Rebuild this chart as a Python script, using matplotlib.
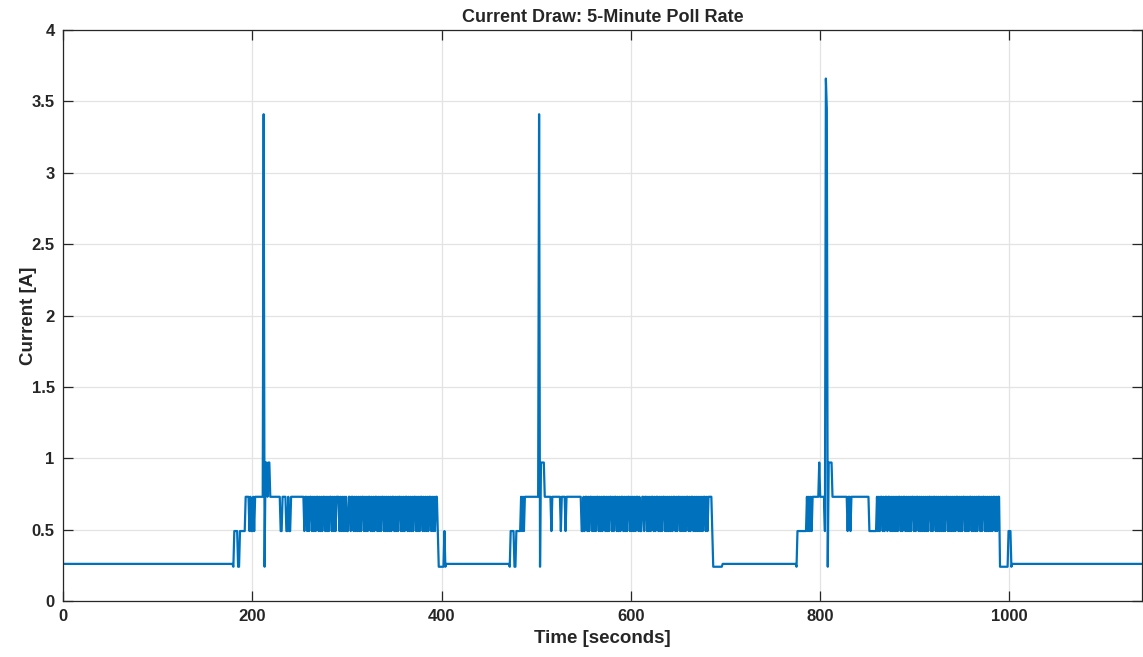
#!/usr/bin/env python3
"""Current draw trace for a 5-minute poll rate, MATLAB-style figure."""
import matplotlib
matplotlib.use("Agg")
import matplotlib.pyplot as plt
import numpy as np

# sample levels (amps)
LEVELS = {"b": 0.26, "d": 0.24, "l": 0.49, "h": 0.73, "p": 0.97}
T_END = 1140

# one character per 1-second sample, "x" marks the spike samples
BURST_STARTS = [180, 472, 775]
BURST_1 = (
    "d" "llll" "dd" "llllll" "hhhh" "lhllhlh" + "h" * 8 + "x" "d" "pphpp"
    + "h" * 11 + "ll" "hhhh" "ll" "h" "ll" + "h" * 14
    + "lhhlhlhhlh" "lhlhhlhlhl" "hhlhlhlhhl" "hlhlhhhlhl" "hlhlhllhhl"
    + "hhlhlhlhlh" "lhhlhlhlhh" "lhlhlhhlhl" "hlhhlhlhlh" "lhlhhlhlhl"
    + "hhlhlhlhhl" "hlhlhlhhlh" "lhlhhlhlhl" "hlhhlhlhlh" "h"
    + "l" "dddddd" "l" "d"
)
BURST_2 = (
    "d" "llll" "dd" "lllll" "hlhlhhh" + "h" * 12 + "x" "d" "pppp"
    + "h" * 7 + "l" + "h" * 9 + "l" "hhhh" "l" + "h" * 16 + "llhl" "h"
    + "hlhlhhlhlh" "lhhlhlhlhh" "lhlhlhhlhl" "hhlhlhlhhl" "hlhlhhlhlh"
    + "lhlhhlhllh" "hlhhlhlhlh" "hlhlhhlhlh" "lhhlhlhlhl" "hlhhlhlhhl"
    + "hlhlhlhhlh" "lhhlhlhlhl" "hlhlhhlhlh" "hhh"
    + "l" + "d" * 10
)
BURST_3 = (
    "d" + "l" * 10 + "hlhlhlh" + "h" * 6 + "p" + "h" * 5 + "l" "xx" "d" "pppp"
    + "h" * 16 + "l" "hh" "l" + "h" * 19 + "l" * 8
    + "hlhlhhlhlh" "hlhhlhlhlh" "lhlhhlhlhh" "lhlhlhlhhl" "hlhhlhlhlh"
    + "lhlhlhhlhl" "hhlhlhlhlh" "lhlhhlhlhl" "hlhlhhlhlh" "lhhlhlhlhh"
    + "lhlhlhlhhl" "hlhhlhlhlh" "lhlhhlhlhh"
    + "d" * 9 + "lll" "d"
)
BURSTS = [BURST_1, BURST_2, BURST_3]
SPIKE_VALUES = [3.41, 3.41, 3.66, 3.45]

X_TICKS = [0, 200, 400, 600, 800, 1000]
Y_TICKS = [0, 0.5, 1, 1.5, 2, 2.5, 3, 3.5, 4]
Y_TICK_LABELS = ["0", "0.5", "1", "1.5", "2", "2.5", "3", "3.5", "4"]

LINE_COLOR = "#0072BD"
TEXT_COLOR = "#262626"


def build_trace():
    t = np.arange(0, T_END + 1)
    y = np.full(t.shape, LEVELS["b"])
    spikes = iter(SPIKE_VALUES)
    for start, codes in zip(BURST_STARTS, BURSTS):
        for i, c in enumerate(codes):
            y[start + i] = next(spikes) if c == "x" else LEVELS[c]
    return t, y


def main():
    plt.rcParams["font.family"] = ["Liberation Sans", "DejaVu Sans"]
    t, y = build_trace()

    fig = plt.figure(figsize=(11.43, 6.57), dpi=100)
    fig.patch.set_facecolor("white")
    ax = fig.add_axes([63 / 1143, 56 / 657, 1079 / 1143, 571 / 657])

    ax.plot(t, y, color=LINE_COLOR, lw=1.6)

    ax.set_xlim(0, T_END)
    ax.set_ylim(0, 4)
    ax.set_xticks(X_TICKS)
    ax.set_yticks(Y_TICKS)
    ax.set_yticklabels(Y_TICK_LABELS)
    ax.grid(True, color="#e3e3e3", lw=0.9)
    ax.set_axisbelow(True)

    ax.tick_params(direction="in", length=7.5, width=0.9, colors=TEXT_COLOR,
                   top=True, right=True, labelsize=12, pad=6)
    for lab in ax.get_xticklabels() + ax.get_yticklabels():
        lab.set_fontweight("bold")
    for sp in ax.spines.values():
        sp.set_color(TEXT_COLOR)
        sp.set_linewidth(0.9)

    ax.set_xlabel("Time [seconds]", fontsize=13.5, fontweight="bold",
                  color=TEXT_COLOR, labelpad=4)
    ax.set_ylabel("Current [A]", fontsize=13.5, fontweight="bold",
                  color=TEXT_COLOR)
    # MATLAB tucks the y label in close to the tick labels
    ax.yaxis.set_label_coords(-26 / 1079, 0.5)
    ax.set_title("Current Draw: 5-Minute Poll Rate", fontsize=13,
                 fontweight="bold", color=TEXT_COLOR, pad=6)

    fig.savefig("out.png", dpi=100, facecolor="white")


if __name__ == "__main__":
    main()
